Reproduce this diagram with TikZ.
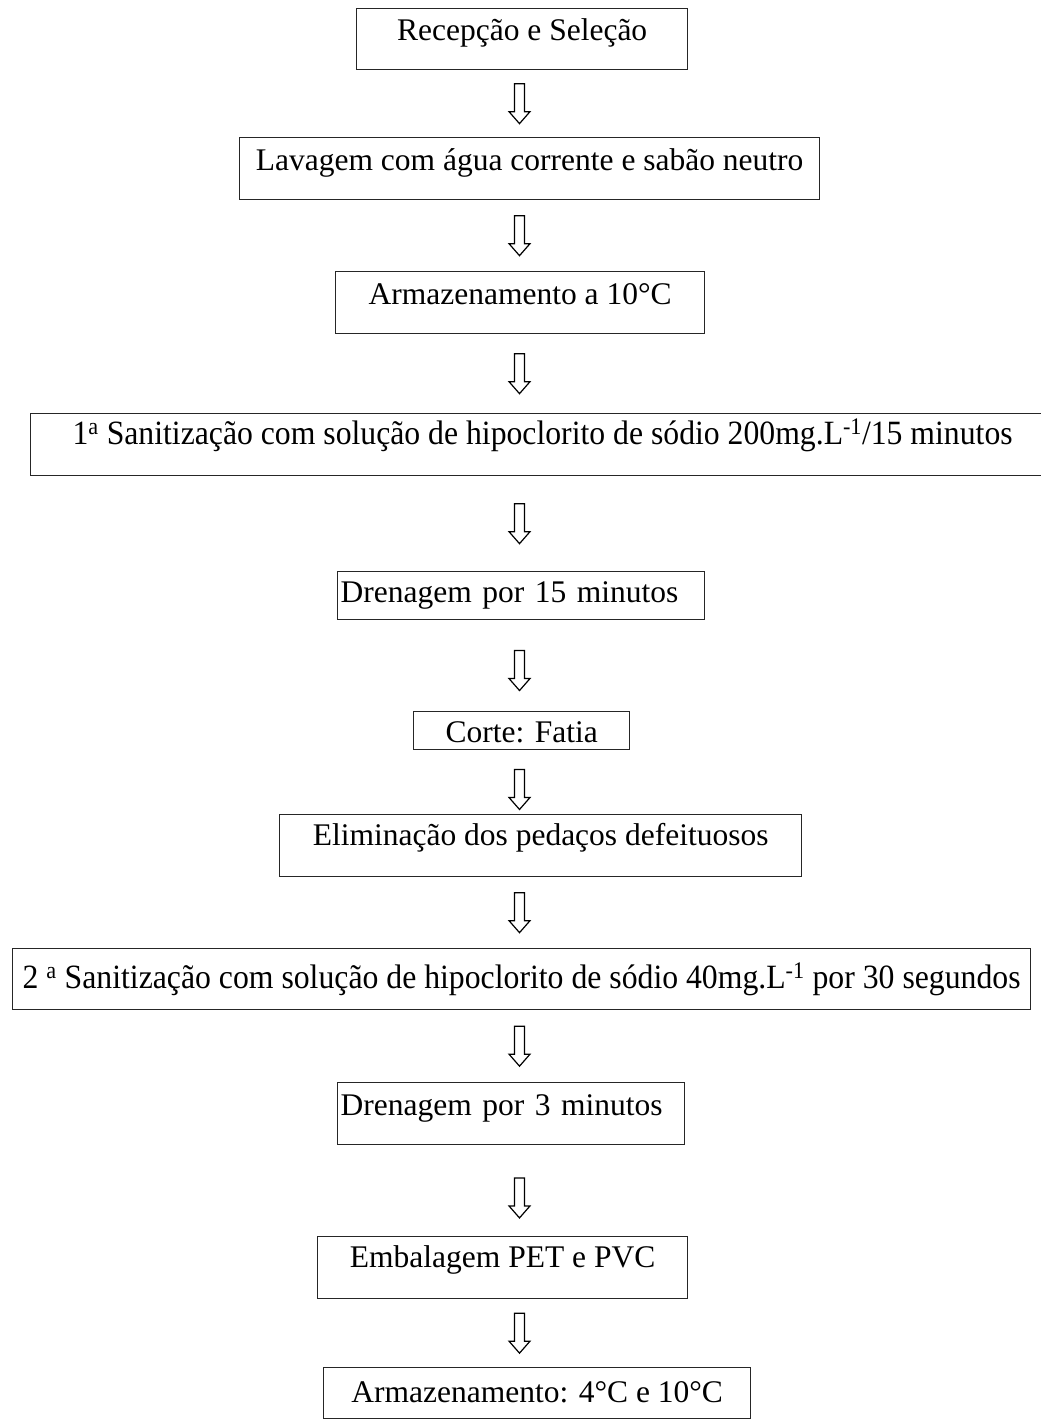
\documentclass[tikz,border=0pt]{standalone}
\usepackage{fontspec}
\setmainfont{Liberation Serif}
\usepackage{graphicx}
\usetikzlibrary{calc}
\tikzset{
	etapa/.style 2 args={
		draw=black!85, line width=1.3pt, inner sep=0pt, anchor=north west,
		font=\fontsize{31.5}{36}\selectfont, text height=#1, text depth=#2},
	esq/.style={inner xsep=3pt, text width=#1, align=left}, % caixas com texto a esquerda
	desce/.style={
		line width=1.2pt, line join=miter,
		to path={let \p1=($(\tikztostart)!#1!(\tikztotarget)$) in
			(\x1-5pt,\y1+20pt) -- (\x1+5pt,\y1+20pt) -- (\x1+5pt,\y1-8pt) -- (\x1+10.5pt,\y1-8pt)
			-- (\x1,\y1-20pt) -- (\x1-10.5pt,\y1-8pt) -- (\x1-5pt,\y1-8pt) -- cycle}},
	desce/.default=0.5
}
\def\apert#1#2{\resizebox{#1}{1.08\height}{#2}}

\begin{document}
\begin{tikzpicture}[x=1pt,y=-1pt]
	\useasboundingbox (0,0) rectangle (1041,1424);
	\coordinate (eixo) at (519.5,0);
	\node[etapa={32pt}{29pt}, minimum width=331pt] (recep) at (356,8) {Recepção e Seleção};
	\node[etapa={33pt}{29pt}, minimum width=580pt] (lav) at (239,137) {Lavagem com água corrente e sabão neutro};
	\node[etapa={33pt}{29pt}, minimum width=369pt] (armaz) at (335,271) {Armazenamento a 10°C};
	\node[etapa={31pt}{31pt}, minimum width=1024pt] (sanit1) at (30,413)
		{\apert{940pt}{1\textsuperscript{a} Sanitização com solução de hipoclorito de sódio 200mg.L\textsuperscript{-1}/15 minutos}};
	\node[etapa={31pt}{17pt}, esq=361pt] (dren1) at (337,571) {Drenagem por 15 minutos};
	\node[etapa={31pt}{7pt}, minimum width=216pt] (corte) at (413,711) {Corte: Fatia};
	\node[etapa={31pt}{31pt}, minimum width=522pt] (elim) at (279,814) {Eliminação dos pedaços defeituosos};
	\node[etapa={40pt}{21pt}, minimum width=1018pt] (sanit2) at (12,948)
		{\apert{998pt}{2 \textsuperscript{a} Sanitização com solução de hipoclorito de sódio 40mg.L\textsuperscript{-1} por 30 segundos}};
	\node[etapa={33pt}{29pt}, esq=341pt] (dren2) at (337,1082) {Drenagem por 3 minutos};
	\node[etapa={31pt}{31pt}, minimum width=370pt] (emb) at (317,1236) {Embalagem PET e PVC};
	\node[etapa={35pt}{16pt}, minimum width=427pt] (final) at (323,1367) {Armazenamento: 4°C e 10°C};

	\draw[desce] (recep.south -| eixo) to (lav.north -| eixo);
	\draw[desce] (lav.south -| eixo) to (armaz.north -| eixo);
	\draw[desce] (armaz.south -| eixo) to (sanit1.north -| eixo);
	\draw[desce] (sanit1.south -| eixo) to (dren1.north -| eixo);
	\draw[desce=0.554] (dren1.south -| eixo) to (corte.north -| eixo);
	\draw[desce=0.615] (corte.south -| eixo) to (elim.north -| eixo);
	\draw[desce] (elim.south -| eixo) to (sanit2.north -| eixo);
	\draw[desce] (sanit2.south -| eixo) to (dren2.north -| eixo);
	\draw[desce=0.58] (dren2.south -| eixo) to (emb.north -| eixo);
	\draw[desce] (emb.south -| eixo) to (final.north -| eixo);
\end{tikzpicture}
\end{document}
